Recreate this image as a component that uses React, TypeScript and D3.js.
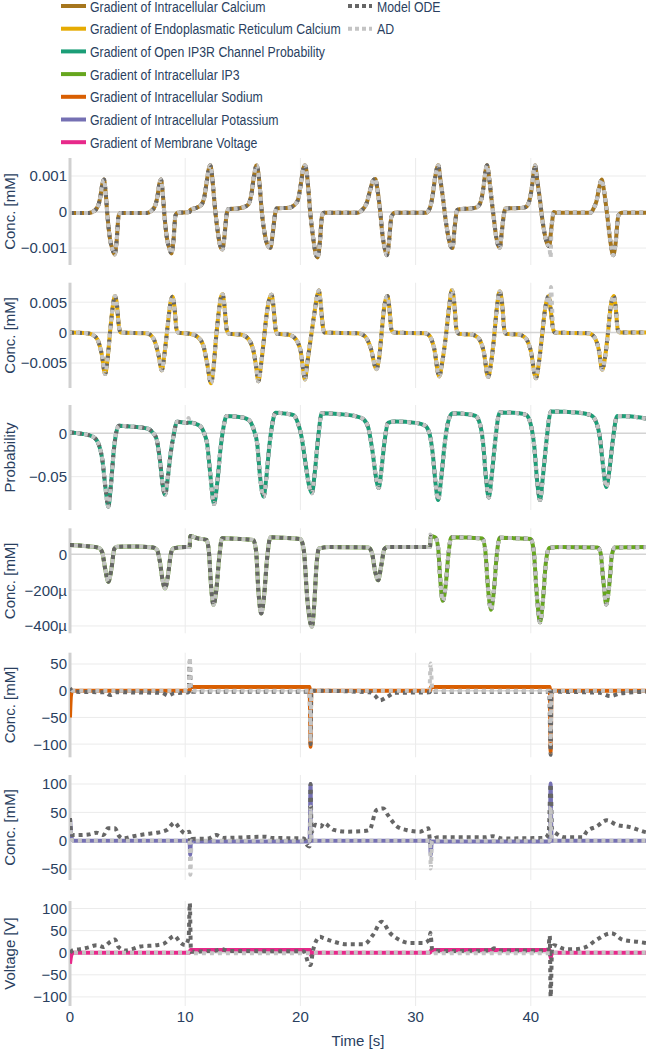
import React from 'react';
import * as d3 from 'd3';

type Pt = [number, number];

// ---- data ----
const TIME_TICKS = [0, 10, 20, 30, 40];
const TIME_DOMAIN: [number, number] = [0, 50];

const SERIES_NAMES = [
  'Gradient of Intracellular Calcium',
  'Gradient of Endoplasmatic Reticulum Calcium',
  'Gradient of Open IP3R Channel Probability',
  'Gradient of Intracellular IP3',
  'Gradient of Intracellular Sodium',
  'Gradient of Intracellular Potassium',
  'Gradient of Membrane Voltage',
];
const SERIES_COLORS = ['#a6761d', '#e6ab02', '#1b9e77', '#66a61e', '#d95f02', '#7570b3', '#e7298a'];

const Y_TITLES = ['Conc. [mM]', 'Conc. [mM]', 'Probability', 'Conc. [mM]', 'Conc. [mM]', 'Conc. [mM]', 'Voltage [V]'];
const Y_DOMAINS: [number, number][] = [
  [-0.00147, 0.0015],
  [-0.0091, 0.0082],
  [-0.0884, 0.0326],
  [-441e-6, 145e-6],
  [-124.7, 71.2],
  [-69.3, 115.9],
  [-120.6, 117],
];
const Y_TICKS = [
  [-0.001, 0, 0.001],
  [-0.005, 0, 0.005],
  [-0.05, 0],
  [-400e-6, -200e-6, 0],
  [-100, -50, 0, 50],
  [-50, 0, 50, 100],
  [-100, -50, 0, 50, 100],
];
const Y_TICK_LABELS = [
  ['−0.001', '0', '0.001'],
  ['−0.005', '0', '0.005'],
  ['−0.05', '0'],
  ['−400µ', '−200µ', '0'],
  ['−100', '−50', '0', '50'],
  ['−50', '0', '50', '100'],
  ['−100', '−50', '0', '50', '100'],
];

// gradient of intracellular calcium
const caGrad: Pt[] = [
  [0, -0.00003], [1.6, -0.00003], [2.1, 0.00003], [2.45, 0.00018], [2.65, 0.00045], [2.82, 0.0008], [2.95, 0.0009],
  [3.08, 0.0006], [3.25, -0.0001], [3.45, -0.0007], [3.7, -0.00105], [3.88, -0.00118], [4.05, -0.0008], [4.22, -0.0001], [4.4, -0.00003],
  [6.6, -0.00003], [7.05, 0.00003], [7.4, 0.00018], [7.6, 0.00045], [7.77, 0.0008], [7.9, 0.0009], [8.03, 0.0006], [8.2, -0.0001],
  [8.4, -0.0007], [8.62, -0.001], [8.8, -0.00115], [8.98, -0.0008], [9.15, -0.0001], [9.35, -0.00002],
  [10.38, 0], [10.45, 0.00006], [11.0, 0.00012], [11.4, 0.0002], [11.65, 0.0004], [11.85, 0.0008], [12.05, 0.0012], [12.17, 0.0013],
  [12.3, 0.0011], [12.45, 0.0006], [12.62, 0], [12.85, -0.0006], [13.05, -0.00095], [13.22, -0.00104], [13.4, -0.0007], [13.58, -0.0001],
  [13.72, 0.00008], [14.6, 0.0001], [15.2, 0.00015], [15.5, 0.00022], [15.75, 0.0005], [15.97, 0.001], [16.2, 0.0013], [16.35, 0.0011],
  [16.5, 0.0006], [16.65, 0], [16.9, -0.0006], [17.15, -0.00092], [17.4, -0.00099], [17.6, -0.0006], [17.78, -0.0001], [17.92, 0.0001],
  [19.0, 0.00012], [19.5, 0.0002], [19.8, 0.00035], [20.05, 0.0008], [20.25, 0.0012], [20.4, 0.0013], [20.55, 0.0011], [20.7, 0.0006],
  [20.85, 0], [21.1, -0.0007], [21.32, -0.00115], [21.5, -0.00126], [21.7, -0.0008], [21.88, -0.0001], [22.05, -0.00002],
  [25.0, -0.00002], [25.3, 0.00004], [25.75, 0.00025], [26.05, 0.0006], [26.3, 0.00087], [26.5, 0.00092], [26.7, 0.0006], [26.9, 0.0001],
  [27.15, -0.0007], [27.35, -0.00105], [27.5, -0.0012], [27.7, -0.0008], [27.9, -0.00013], [28.2, -0.00002],
  [30.9, -0.00002], [31.25, 0.00012], [31.5, 0.0005], [31.7, 0.00097], [31.97, 0.0013], [32.15, 0.0009], [32.4, 0.00033], [32.6, -0.0002],
  [32.85, -0.0007], [33.05, -0.00095], [33.2, -0.001], [33.4, -0.0004], [33.6, 0.00005], [33.8, 0.00008], [34.8, 0.0001], [35.3, 0.00013],
  [35.6, 0.00024], [35.9, 0.0007], [36.05, 0.0011], [36.2, 0.0013], [36.4, 0.0009], [36.6, 0.00033], [36.8, -0.0002], [37.0, -0.0007],
  [37.3, -0.001], [37.5, -0.0005], [37.65, -0.0001], [37.8, 0.0001], [39.0, 0.00011], [39.5, 0.00013], [39.8, 0.00024], [40.1, 0.0007],
  [40.25, 0.0011], [40.37, 0.0013], [40.55, 0.0009], [40.8, 0.00033], [41.0, -0.0002], [41.2, -0.0006], [41.45, -0.0009], [41.6, -0.00095],
  [41.8, -0.0004], [42.0, 0], [42.2, -0.00002],
  [45.2, -0.00002], [45.45, 0.0001], [45.7, 0.0003], [45.95, 0.0007], [46.15, 0.0009], [46.35, 0.0006], [46.6, 0], [46.9, -0.0008],
  [47.15, -0.0012], [47.35, -0.0009], [47.6, -0.0001], [47.9, -0.00002], [50, -0.00002],
];
const caAdExtra: Pt[] = [[41.72, -0.00126]];

// gradient of ER calcium
const erGrad: Pt[] = [
  [0, 0], [1.5, -0.0001], [2.0, -0.0004], [2.4, -0.0012], [2.75, -0.0035], [3.05, -0.0068], [3.25, -0.0045], [3.5, 0.0005],
  [3.75, 0.0048], [3.9, 0.006], [4.05, 0.005], [4.25, 0.001], [4.4, 0],
  [6.6, -0.0001], [7.0, -0.0004], [7.35, -0.0014], [7.7, -0.0038], [7.97, -0.0062], [8.2, -0.0035], [8.5, 0.0015], [8.75, 0.0052],
  [8.9, 0.0059], [9.05, 0.0045], [9.25, 0.0005], [9.4, 0],
  [10.4, -0.0002], [11.0, -0.0006], [11.55, -0.002], [11.9, -0.005], [12.24, -0.0083], [12.45, -0.006], [12.65, -0.0015], [12.9, 0.0032],
  [13.1, 0.0058], [13.25, 0.0063], [13.4, 0.0045], [13.6, 0.0005], [13.8, -0.0002],
  [14.8, -0.0003], [15.3, -0.0007], [15.9, -0.0028], [16.15, -0.0055], [16.35, -0.008], [16.6, -0.005], [16.8, -0.0017], [17.07, 0.003],
  [17.3, 0.0055], [17.5, 0.0062], [17.65, 0.0045], [17.85, 0.0005], [18.0, -0.0002],
  [18.9, -0.0003], [19.4, -0.0007], [20.0, -0.0028], [20.2, -0.0055], [20.4, -0.0077], [20.6, -0.005], [20.8, -0.0023], [21.2, 0.003],
  [21.45, 0.006], [21.6, 0.0069], [21.75, 0.005], [21.95, 0.001], [22.1, 0],
  [25.0, -0.0001], [25.6, -0.0006], [26.1, -0.0025], [26.6, -0.006], [26.85, -0.004], [27.05, 0], [27.3, 0.0045], [27.55, 0.006],
  [27.7, 0.0045], [27.9, 0.0005], [28.1, 0],
  [30.8, -0.0001], [31.2, -0.0005], [31.6, -0.0025], [32.05, -0.0072], [32.3, -0.005], [32.6, -0.001], [32.9, 0.004], [33.15, 0.007],
  [33.35, 0.005], [33.55, 0.0005], [33.75, -0.0002],
  [34.8, -0.0003], [35.4, -0.0008], [35.9, -0.003], [36.3, -0.0073], [36.55, -0.005], [36.8, -0.001], [37.05, 0.004], [37.3, 0.0068],
  [37.5, 0.005], [37.7, 0.0005], [37.85, -0.0002],
  [38.9, -0.0003], [39.5, -0.0008], [40.0, -0.003], [40.45, -0.0075], [40.7, -0.005], [40.95, -0.001], [41.25, 0.004], [41.55, 0.006],
  [41.68, 0.0045], [41.95, 0.0005], [42.1, 0],
  [45.0, -0.0001], [45.5, -0.0007], [45.9, -0.0028], [46.2, -0.0061], [46.45, -0.004], [46.7, 0], [46.95, 0.0045], [47.2, 0.006],
  [47.35, 0.0045], [47.55, 0.0005], [47.75, 0], [50, 0],
];
const erAdExtra: Pt[] = [[41.75, 0.0075]];

// gradient of open IP3R channel probability
const ipGrad: Pt[] = [
  [0, 0.001], [1.0, -0.0005], [2.0, -0.004], [2.5, -0.013], [2.8, -0.03], [3.1, -0.065], [3.33, -0.0845], [3.55, -0.06], [3.8, -0.02],
  [4.0, 0], [4.25, 0.0088], [5.5, 0.0075], [6.5, 0.006], [6.9, 0.0045], [7.2, 0.0005], [7.5, -0.006], [7.8, -0.03], [8.05, -0.06],
  [8.25, -0.071], [8.5, -0.05], [8.75, -0.022], [9.0, -0.002], [9.3, 0.0134], [10.1, 0.012], [10.4, 0.0125], [11.0, 0.0105],
  [11.35, 0.0075], [11.65, 0], [11.9, -0.0115], [12.2, -0.05], [12.5, -0.0815], [12.8, -0.055], [13.05, -0.02], [13.3, 0.005],
  [13.6, 0.02], [14.5, 0.019], [15.3, 0.017], [15.7, 0.0125], [16.0, 0.002], [16.25, -0.012], [16.5, -0.05], [16.8, -0.073],
  [17.05, -0.05], [17.3, -0.015], [17.55, 0.01], [17.85, 0.0238], [18.8, 0.0225], [19.4, 0.021], [19.75, 0.013], [20.1, -0.004],
  [20.45, -0.035], [20.75, -0.06], [21.0, -0.069], [21.25, -0.045], [21.55, -0.004], [21.85, 0.023], [23.5, 0.022], [25.0, 0.019],
  [25.5, 0.016], [25.9, 0.006], [26.25, -0.02], [26.55, -0.05], [26.8, -0.063], [27.05, -0.04], [27.3, -0.01], [27.6, 0.012],
  [28.2, 0.0135], [30.0, 0.012], [30.8, 0.009], [31.2, 0.0], [31.5, -0.025], [31.75, -0.06], [31.95, -0.077], [32.2, -0.055],
  [32.5, -0.015], [32.8, 0.012], [33.2, 0.023], [34.5, 0.022], [35.2, 0.02], [35.6, 0.01], [35.85, -0.01], [36.1, -0.05],
  [36.35, -0.074], [36.6, -0.05], [36.9, -0.01], [37.3, 0.024], [39.0, 0.023], [39.6, 0.021], [40.0, 0.01], [40.3, -0.015],
  [40.55, -0.055], [40.8, -0.077], [41.05, -0.05], [41.35, -0.01], [41.75, 0.025], [44.0, 0.024], [45.2, 0.021], [45.7, 0.012],
  [46.0, -0.005], [46.25, -0.035], [46.55, -0.062], [46.8, -0.045], [47.1, -0.01], [47.5, 0.02], [48.5, 0.0195], [50, 0.017],
];
const ipAdExtra: Pt[] = [[10.3, 0.0175]];

// gradient of intracellular IP3 (mM)
const ip3Grad: Pt[] = [
  [0, 52e-6], [1.5, 45e-6], [2.5, 36e-6], [2.8, 10e-6], [3.05, -80e-6], [3.33, -153e-6], [3.6, -80e-6], [3.85, 30e-6], [4.1, 42e-6],
  [5.5, 44e-6], [7.2, 38e-6], [7.55, 25e-6], [7.8, -40e-6], [8.05, -150e-6], [8.25, -190e-6], [8.5, -120e-6], [8.75, 0], [8.95, 32e-6],
  [10.0, 40e-6], [10.38, 40e-6], [10.45, 102e-6], [11.0, 90e-6], [11.85, 80e-6], [12.05, 20e-6], [12.25, -180e-6], [12.45, -283e-6],
  [12.7, -200e-6], [12.95, -20e-6], [13.2, 89e-6], [14.5, 86e-6], [15.9, 80e-6], [16.15, 20e-6], [16.35, -200e-6], [16.6, -330e-6],
  [16.85, -230e-6], [17.1, -30e-6], [17.4, 95e-6], [18.5, 92e-6], [20.0, 85e-6], [20.3, 20e-6], [20.6, -250e-6], [21.0, -405e-6],
  [21.2, -280e-6], [21.4, -60e-6], [21.6, 32e-6], [22.5, 40e-6], [25.9, 38e-6], [26.2, 10e-6], [26.5, -100e-6], [26.75, -145e-6],
  [27.0, -70e-6], [27.3, 30e-6], [27.6, 40e-6], [31.25, 40e-6], [31.32, 100e-6], [31.7, 95e-6], [31.95, 40e-6], [32.15, -150e-6],
  [32.35, -260e-6], [32.6, -180e-6], [32.85, 0], [33.1, 95e-6], [34.5, 93e-6], [35.8, 88e-6], [36.05, 20e-6], [36.3, -200e-6],
  [36.55, -310e-6], [36.8, -200e-6], [37.05, 0], [37.3, 92e-6], [38.5, 90e-6], [40.0, 85e-6], [40.25, 20e-6], [40.55, -250e-6],
  [40.8, -380e-6], [41.05, -260e-6], [41.3, -50e-6], [41.6, 35e-6], [42.5, 40e-6], [45.8, 38e-6], [46.05, 10e-6], [46.3, -150e-6],
  [46.55, -280e-6], [46.8, -180e-6], [47.05, 0], [47.3, 38e-6], [50, 40e-6],
];
const ip3AdExtra: Pt[] = [[10.4, 70e-6], [31.28, 110e-6]];

// gradient of intracellular sodium
const naGrad: Pt[] = [
  [0, -50], [0.08, -10], [0.2, 0], [10.38, 0], [10.45, 7], [20.8, 7], [20.88, -105], [20.95, 0], [31.25, 0], [31.35, 7],
  [41.65, 7], [41.72, -115], [41.8, 0], [50, 0],
];
const naODE: Pt[] = [
  [0, 5], [0.3, -2], [3.0, -3], [3.5, -8], [4.0, -3], [8.0, -4], [8.5, -9], [9.0, -5], [10.3, -3], [10.4, 55], [10.5, 0],
  [10.7, -2], [20.8, -2], [20.88, -100], [20.95, 0], [26.0, -3], [26.5, -10], [26.9, -18], [27.5, -12], [28.2, -4], [31.2, -3],
  [31.3, 0], [31.5, -2], [41.6, -2], [41.72, -120], [41.8, -2], [46.0, -4], [46.9, -10], [47.8, -5], [50, -2],
];
const naAD: Pt[] = [
  [0, 8], [0.2, 0], [10.3, 0], [10.4, 62], [10.5, 3], [10.8, 0], [20.8, 0], [20.88, -95], [20.95, 0], [31.2, 0], [31.3, 51],
  [31.45, 2], [31.7, 0], [41.65, 0], [41.72, -100], [41.8, 0], [50, 0],
];

// gradient of intracellular potassium
const kGrad: Pt[] = [
  [0, 40], [0.15, 5], [0.3, 0], [10.38, 0], [10.43, -25], [10.5, -1.5], [20.8, -1.5], [20.88, 100], [20.95, 0], [31.25, 0],
  [31.32, -25], [31.4, -1.5], [41.65, -1.5], [41.72, 101], [41.8, 0], [50, 0],
];
const kODE: Pt[] = [
  [0, 40], [0.15, 10], [0.6, 10], [1.6, 11], [2.3, 14], [2.9, 10], [3.3, 22], [3.9, 22], [4.2, 10], [4.6, 4], [5.5, 8], [6.7, 12],
  [7.5, 14], [8.4, 19], [9.1, 32], [9.5, 22], [10.0, 13], [10.35, 16], [10.45, -3], [10.6, 3], [12.0, 4], [12.7, 10], [13.3, 5],
  [17.0, 7], [17.5, 5], [20.3, 4], [20.6, -8], [20.8, -10], [20.88, 100], [20.97, 15], [21.3, 28], [21.8, 25], [22.0, 31],
  [22.9, 19], [24.0, 16], [25.5, 17], [26.0, 19], [26.6, 54], [27.2, 57], [27.6, 45], [28.4, 25], [29.2, 19], [30.4, 16],
  [31.1, 22], [31.3, -5], [31.5, 2], [32.0, 6], [36.0, 6], [36.7, 8], [37.5, 4], [41.2, 5], [41.55, 13], [41.72, 100], [41.85, 20],
  [42.2, 13], [43.0, 6], [44.5, 6], [44.85, 16], [45.7, 25], [46.6, 36], [47.45, 28], [48.6, 24], [49.8, 16], [50, 15],
];
const kAD: Pt[] = [
  [0, 40], [0.15, 3], [0.3, 0], [10.38, 0], [10.45, -60], [10.55, 0], [20.8, 0], [20.88, 60], [20.95, 0], [31.25, 0], [31.32, -49],
  [31.42, 0], [41.65, 0], [41.72, 60], [41.8, 0], [50, 0],
];

// gradient of membrane voltage
const vGrad: Pt[] = [
  [0, -25], [0.12, -5], [0.25, 0], [10.38, 0], [10.45, 6], [20.85, 6], [20.9, -5], [21.0, 0], [31.25, 0], [31.35, 6],
  [41.65, 6], [41.72, -12], [41.82, 0], [50, 0],
];
const vODE: Pt[] = [
  [0, 0], [0.3, 6], [0.87, 8], [1.6, 12], [2.3, 17], [2.9, 13], [3.5, 25], [3.9, 30], [4.2, 13], [4.8, 5], [5.4, 8], [6.1, 14],
  [7.5, 17], [8.1, 20], [9.1, 38], [9.5, 25], [10.0, 17], [10.3, 34], [10.4, 112], [10.5, 2], [11.3, 3], [12.7, 5], [13.2, 8],
  [13.7, 4], [20.3, 3], [20.7, -24], [20.88, -28], [21.1, 6], [21.7, 36], [22.0, 33], [22.9, 25], [24.0, 19], [25.5, 19],
  [26.3, 40], [27.05, 70], [27.8, 44], [28.6, 29], [29.5, 22], [30.7, 22], [31.2, 30], [31.28, 45], [31.45, 6], [32.5, 4],
  [36.5, 5], [36.8, 10], [37.3, 5], [41.5, 5], [41.65, 38], [41.72, -100], [41.85, 10], [42.0, 17], [43.0, 8], [43.8, 8],
  [44.8, 13], [45.7, 29], [47.0, 44], [48.0, 29], [49.5, 24], [50, 22],
];
const vAD: Pt[] = [[0, 0], [10.4, 0], [10.5, -1], [20.85, -1], [20.95, 0], [31.3, 0], [31.4, -1], [41.7, -1], [41.8, 0], [50, 0]];

const withPoints = (base: Pt[], extra: Pt[]): Pt[] =>
  [...base.filter(p => !extra.some(e => e[0] === p[0])), ...extra].sort((a, b) => a[0] - b[0]);

const GRADIENTS = [caGrad, erGrad, ipGrad, ip3Grad, naGrad, kGrad, vGrad];
const MODEL_ODE = [caGrad, erGrad, ipGrad, ip3Grad, naODE, kODE, vODE];
const AUTO_DIFF = [
  withPoints(caGrad, caAdExtra),
  withPoints(erGrad, erAdExtra),
  withPoints(ipGrad, ipAdExtra),
  withPoints(ip3Grad, ip3AdExtra),
  naAD,
  kAD,
  vAD,
];

// ---- layout ----
const W = 646;
const H = 1049;
const PLOT_LEFT = 70;
const PLOT_RIGHT = 646;
const PANEL_TOP = [158, 282.7, 405, 528.3, 652.7, 775, 901];
const PANEL_BOTTOM = [265, 388, 510, 633.3, 757.3, 880, 1006];
const AD_DASH_OFFSET = [2, 2, 2, 4, 4, 4, 4];
const FONT = '"Liberation Sans", Arial, Helvetica, sans-serif';
const TEXT = '#2a3f5f';
const ODE_COLOR = '#666666';
const AD_COLOR = '#c4c4c4';

export default function App() {
  const x = d3.scaleLinear().domain(TIME_DOMAIN).range([PLOT_LEFT, PLOT_RIGHT]);

  const legendRowY = (i: number) => 6 + i * 22.7;

  return (
    <svg width={W} height={H} style={{ position: 'absolute', left: 0, top: 0, background: '#fff' }} fontFamily={FONT}>
      <defs>
        {PANEL_TOP.map((t, i) => (
          <clipPath id={`clip${i}`} key={i}>
            <rect x={PLOT_LEFT} y={t} width={PLOT_RIGHT - PLOT_LEFT} height={PANEL_BOTTOM[i] - t} />
          </clipPath>
        ))}
      </defs>

      {/* legend */}
      <g>
        {SERIES_NAMES.map((name, i) => (
          <g key={name}>
            <line x1={61} x2={86} y1={legendRowY(i)} y2={legendRowY(i)} stroke={SERIES_COLORS[i]} strokeWidth={4} />
            <text transform={`translate(90,${legendRowY(i) + 5.5}) scale(0.82,1)`} fontSize={15} fill={TEXT}>
              {name}
            </text>
          </g>
        ))}
        {[
          { name: 'Model ODE', color: ODE_COLOR },
          { name: 'AD', color: AD_COLOR },
        ].map((d, i) => (
          <g key={d.name}>
            <line x1={348} x2={372} y1={legendRowY(i)} y2={legendRowY(i)} stroke={d.color} strokeWidth={4} strokeDasharray="4,3" />
            <text transform={`translate(377,${legendRowY(i) + 5.5}) scale(0.82,1)`} fontSize={15} fill={TEXT}>
              {d.name}
            </text>
          </g>
        ))}
      </g>

      {PANEL_TOP.map((top, i) => {
        const bottom = PANEL_BOTTOM[i];
        const y = d3.scaleLinear().domain(Y_DOMAINS[i]).range([bottom, top]);
        const line = d3
          .line<Pt>()
          .x(d => x(d[0]))
          .y(d => y(d[1]))
          .curve(d3.curveMonotoneX);
        const mid = (top + bottom) / 2;
        return (
          <g key={i}>
            {/* grid */}
            {TIME_TICKS.filter(t => t !== 0).map(t => (
              <line key={`vx${t}`} x1={x(t)} x2={x(t)} y1={top} y2={bottom} stroke="#ebebeb" strokeWidth={1} />
            ))}
            {Y_TICKS[i].filter(v => v !== 0).map(v => (
              <line key={`hy${v}`} x1={PLOT_LEFT} x2={PLOT_RIGHT} y1={y(v)} y2={y(v)} stroke="#ebebeb" strokeWidth={1} />
            ))}
            <line x1={PLOT_LEFT} x2={PLOT_RIGHT} y1={y(0)} y2={y(0)} stroke="#d4d4d4" strokeWidth={1.5} />
            <line x1={x(0)} x2={x(0)} y1={top} y2={bottom} stroke="#d0d0d0" strokeWidth={3} />

            {/* traces */}
            <g clipPath={`url(#clip${i})`} fill="none">
              <path d={line(GRADIENTS[i]) || ''} stroke={SERIES_COLORS[i]} strokeWidth={4} strokeLinejoin="round" />
              <path d={line(MODEL_ODE[i]) || ''} stroke={ODE_COLOR} strokeWidth={4} strokeDasharray="4,4" />
              <path
                d={line(AUTO_DIFF[i]) || ''}
                stroke={AD_COLOR}
                strokeWidth={4}
                strokeDasharray="4,4"
                strokeDashoffset={AD_DASH_OFFSET[i]}
              />
            </g>

            {/* y ticks */}
            {Y_TICKS[i].map((v, k) => (
              <text key={`yt${v}`} x={67} y={y(v)} dy="0.36em" textAnchor="end" fontSize={15} fill={TEXT}>
                {Y_TICK_LABELS[i][k]}
              </text>
            ))}
            <text transform={`translate(15,${mid}) rotate(-90)`} textAnchor="middle" fontSize={15} fill={TEXT}>
              {Y_TITLES[i]}
            </text>
          </g>
        );
      })}

      {/* x axis */}
      {TIME_TICKS.map(t => (
        <text key={`xt${t}`} x={x(t)} y={1021.5} textAnchor="middle" fontSize={15} fill={TEXT}>
          {t}
        </text>
      ))}
      <text x={(PLOT_LEFT + PLOT_RIGHT) / 2} y={1046} textAnchor="middle" fontSize={15} fill={TEXT}>
        Time [s]
      </text>
    </svg>
  );
}
